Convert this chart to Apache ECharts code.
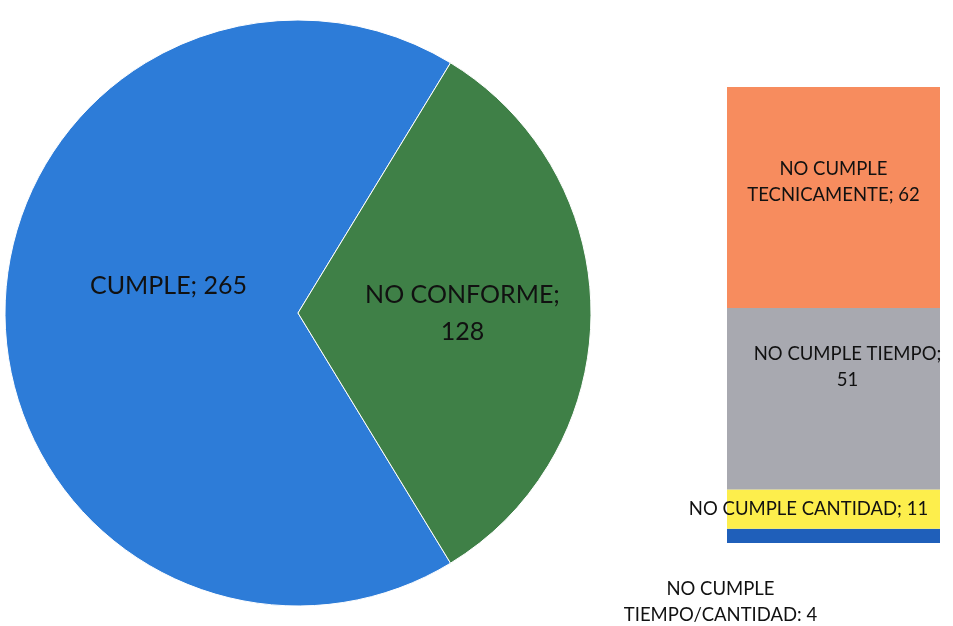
<!DOCTYPE html>
<html>
<head>
<meta charset="utf-8">
<script src="https://cdn.jsdelivr.net/npm/echarts@6/dist/echarts.min.js"></script>
<style>
  html, body { margin: 0; padding: 0; background: #fff; }
  #chart { width: 953px; height: 626px; }
</style>
</head>
<body>
<div id="chart"></div>
<script>
// pie: main split
const pieNames = ['CUMPLE', 'NO CONFORME']
const pieValues = [265, 128]
const pieColors = ['#2d7cd8', '#3f8047']
const pieLabelOffsets = [[20, -27], [15, 0]]

// bar: breakdown of NO CONFORME, bottom to top
const barNames = ['NO CUMPLE TIEMPO/CANTIDAD', 'NO CUMPLE CANTIDAD', 'NO CUMPLE TIEMPO', 'NO CUMPLE TECNICAMENTE']
const barValues = [4, 11, 51, 62]
const barColors = ['#1f5fba', '#fdee4c', '#a8a9b0', '#f78c5e']
const barLabels = [
  'NO CUMPLE\nTIEMPO/CANTIDAD: 4',
  'NO CUMPLE CANTIDAD; 11',
  'NO CUMPLE TIEMPO;\n51',
  'NO CUMPLE\nTECNICAMENTE; 62',
]
const barLabelOffsets = [[-113, 66], [-25, 0], [14, -32], [0, -15]]

const FONT = 'Lato'
const chart = echarts.init(document.getElementById('chart'))

// green slice centred on the right side
const total = pieValues.reduce((a, b) => a + b, 0)
const greenHalf = 360 * pieValues[1] / total / 2

chart.setOption({
  animation: false,
  backgroundColor: '#ffffff',
  grid: { left: 727, width: 213, top: 87, bottom: 83 },
  xAxis: { type: 'category', data: ['NO CONFORME'], show: false },
  yAxis: { type: 'value', min: 0, max: barValues.reduce((a, b) => a + b, 0), show: false },
  series: [
    {
      type: 'pie',
      center: [298, 313],
      radius: 293,
      startAngle: -greenHalf,
      clockwise: true,
      itemStyle: { borderColor: '#ffffff', borderWidth: 1 },
      label: {
        position: 'inside',
        color: '#111',
        fontFamily: FONT,
        fontSize: 25,
        lineHeight: 37,
        formatter: p => p.name.length > 8 ? `${p.name};\n${p.value}` : `${p.name}; ${p.value}`,
      },
      labelLine: { show: false },
      emphasis: { disabled: true },
      data: pieNames.map((n, i) => ({
        name: n, value: pieValues[i],
        itemStyle: { color: pieColors[i] },
        label: { offset: pieLabelOffsets[i] },
      })),
    },
    ...barNames.map((n, i) => ({
      type: 'bar',
      name: n,
      stack: 'nc',
      barWidth: '100%',
      data: [barValues[i]],
      itemStyle: { color: barColors[i] },
      label: {
        show: true,
        position: 'inside',
        offset: barLabelOffsets[i],
        color: '#111',
        fontFamily: FONT,
        fontSize: 18.5,
        lineHeight: 26,
        formatter: () => barLabels[i],
      },
      emphasis: { disabled: true },
    })),
  ],
})
</script>
</body>
</html>
